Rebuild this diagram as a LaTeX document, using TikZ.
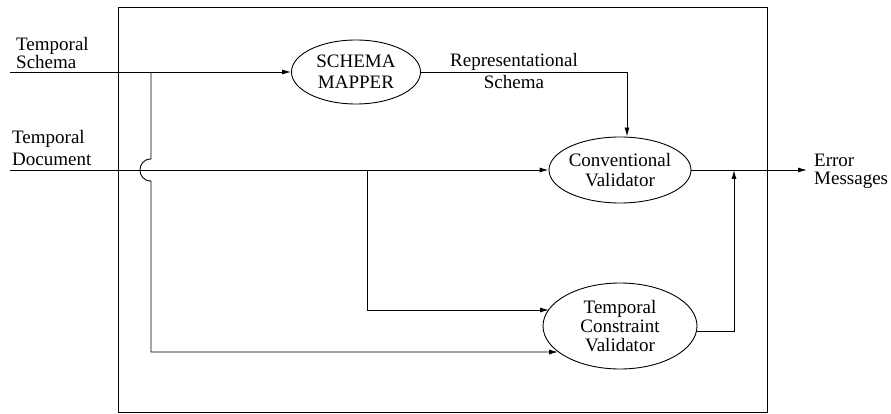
\documentclass[tikz,border=0pt]{standalone}
\usepackage{fontspec}
\setmainfont{Liberation Serif}
\usetikzlibrary{shapes.geometric,arrows.meta,calc}
\begin{document}
\begin{tikzpicture}[x=1pt,y=-1pt,
  font=\fontsize{19}{17}\selectfont,
  wire/.style={line width=0.9pt},
  arr/.style={wire,-{Latex[length=9pt,width=5pt]}},
  proc/.style={draw,ellipse,line width=0.9pt,inner sep=0pt,align=center},
  lbl/.style={inner sep=0pt,align=left}]
\useasboundingbox (0,0) rectangle (891,414);

% system boundary
\node[draw,line width=0.9pt,minimum width=649pt,minimum height=405pt,inner sep=0pt] (sys) at (442.5,209.5) {};

% processes
\node[proc,minimum width=129pt,minimum height=64pt] (sm) at (356,72) {SCHEMA\\[4pt]MAPPER};
\node[proc,minimum width=142pt,minimum height=66pt,inner xsep=-6pt] (cv) at (620,170) {Conventional\\[3pt]Validator};
\node[proc,minimum width=154pt,minimum height=86pt,inner ysep=-6pt] (tcv) at (620,326) {Temporal\\[2pt]Constraint\\[2pt]Validator};

% labels
\node[lbl,anchor=west] (ts) at (16,53) {Temporal\\[-1pt]Schema};
\node[lbl,anchor=west] (td) at (12,148) {Temporal\\[5pt]Document};
\node[lbl,align=center] (rs) at (514,71) {Representational\\[4pt]Schema};
\node[lbl,anchor=west] (em) at (814,171) {Error\\[1pt]Messages};

% end points and junctions
\coordinate (tsin) at (10,72);
\coordinate (tdin) at (10,170);
\coordinate (b1) at (151,72);
\coordinate (jtop) at (151,159);
\coordinate (jbot) at (151,181);
\coordinate (b1c) at (151,352);
\coordinate (tin2) at (558,352);
\coordinate (b2) at (367,170);
\coordinate (tin1) at (549,310);
\coordinate (tout) at (697,331);
\coordinate (join) at (734,170);
\coordinate (errend) at (807,170);

% connectors
\draw[arr] (tsin) -- (sm.west);
\draw[arr] (tdin) -- (cv.west);
\draw[arr] (sm.east) -| ($(cv.north)+(7,0)$);
\draw[arr] (cv.east) -- (errend);
\draw[arr] (b1) -- (jtop) .. controls (136.3,159) and (136.3,181) .. (jbot) -- (b1c) -- (tin2);
\draw[arr] (b2) |- (tin1);
\draw[arr] (tout) -| (join);
\end{tikzpicture}
\end{document}
